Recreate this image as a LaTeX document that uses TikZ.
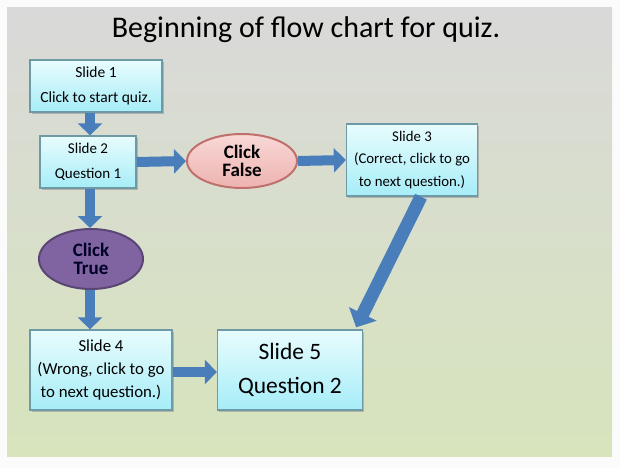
\documentclass[tikz,border=0pt]{standalone}
\usepackage{fontspec}
\setmainfont{Carlito}
\usetikzlibrary{shapes.geometric,arrows.meta,shadows}
\definecolor{slidetop}{HTML}{D9D9D9}
\definecolor{slidebot}{HTML}{D7E4BC}
\definecolor{boxtop}{HTML}{E8FCFD}
\definecolor{boxbot}{HTML}{A6EDF8}
\definecolor{boxedge}{HTML}{6E9AA6}
\definecolor{arrowblue}{HTML}{4A7EBB}
\definecolor{falsetop}{HTML}{F8D8D6}
\definecolor{falsebot}{HTML}{EDB3B0}
\definecolor{falseedge}{HTML}{C0706C}
\definecolor{truefill}{HTML}{8064A2}
\definecolor{trueedge}{HTML}{5A4675}
\begin{document}
\begin{tikzpicture}[x=1pt,y=-1pt,
  slidebox/.style={rectangle, draw=boxedge, line width=1.3pt, top color=boxtop, bottom color=boxbot,
    align=center, inner sep=0pt, drop shadow={shadow xshift=1.5pt, shadow yshift=-2pt, opacity=0.45}},
  clickoval/.style={ellipse, line width=2pt, align=center, inner sep=0pt,
    font=\fontsize{19}{18}\selectfont\bfseries},
  blockarrow/.style={draw=arrowblue, line width=10pt, -{Triangle[width=24pt,length=12pt]}},
  widearrow/.style={draw=arrowblue, line width=13pt, -{Triangle[width=30pt,length=15pt]}}
]
\useasboundingbox (0,0) rectangle (620,468);
\fill[white!97!gray] (0,0) rectangle (620,468);
\shade[top color=slidetop, bottom color=slidebot] (7,8) rectangle (612,456);

\node (title) at (306,30) {\fontsize{30}{34}\selectfont Beginning of flow chart for quiz.};

\node[slidebox, minimum width=132pt, minimum height=52pt, font=\fontsize{15.5}{25}\selectfont] (s1) at (96,86)
  {Slide 1\\Click to start quiz.};
\node[slidebox, minimum width=96pt, minimum height=52pt, font=\fontsize{15}{25}\selectfont] (s2) at (88,162)
  {Slide 2\\Question 1};
\node[slidebox, minimum width=131pt, minimum height=72pt, font=\fontsize{14.8}{22.5}\selectfont] (s3) at (412,160)
  {Slide 3\\(Correct, click to go\\to next question.)};
\node[slidebox, minimum width=142pt, minimum height=80pt, font=\fontsize{16.8}{23}\selectfont] (s4) at (101,370)
  {Slide 4\\(Wrong, click to go\\to next question.)};
\node[slidebox, minimum width=145pt, minimum height=80pt, font=\fontsize{23.5}{34}\selectfont] (s5) at (290,370)
  {Slide 5\\Question 2};

\node[clickoval, draw=falseedge, top color=falsetop, bottom color=falsebot, minimum width=110pt, minimum height=54pt] (cf) at (242,161)
  {Click\\False};
\node[clickoval, draw=trueedge, fill=truefill, text=black!85!blue, minimum width=104pt, minimum height=60pt] (ct) at (91,259)
  {Click\\True};

\draw[blockarrow] (s1.south -| 90,0) -- (s2.north -| 90,0);
\draw[blockarrow] (s2.east) -- (cf.west);
\draw[blockarrow] (cf.east) -- (s3.west);
\draw[blockarrow] (s2.south -| 90,0) -- (ct.north -| 90,0);
\draw[blockarrow] (ct.south -| 90,0) -- (s4.north -| 90,0);
\draw[blockarrow] (s4.east |- 0,372) -- (s5.west |- 0,372);
\draw[widearrow] ([xshift=9pt]s3.south) -- ([xshift=-7pt,yshift=2pt]s5.north east);
\end{tikzpicture}
\end{document}
